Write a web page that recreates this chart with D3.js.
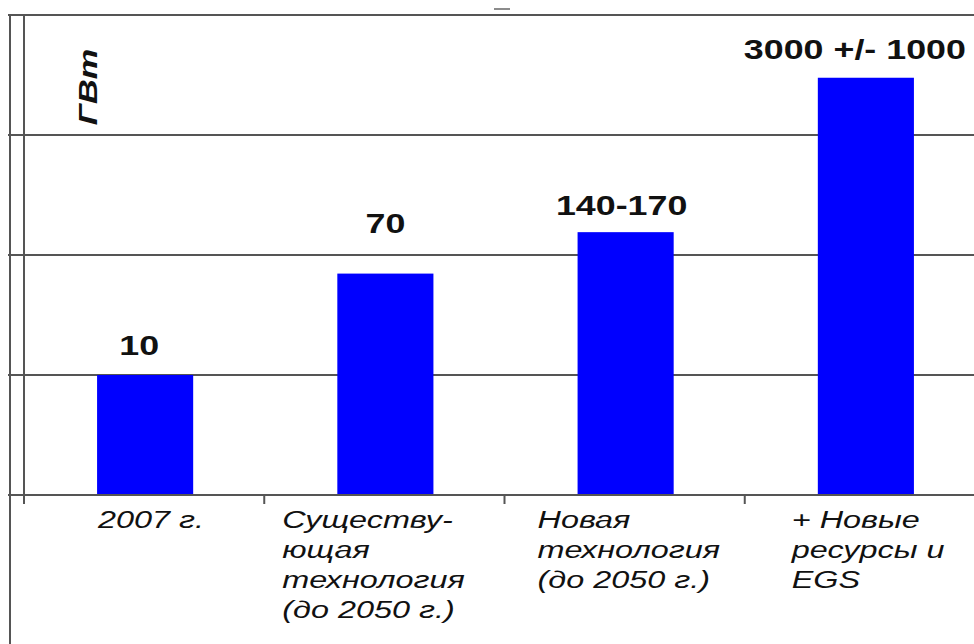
<!DOCTYPE html>
<html lang="ru">
<head>
<meta charset="utf-8">
<script src="https://cdn.jsdelivr.net/npm/d3@7"></script>
<style>
  html, body { margin: 0; padding: 0; background: #fff; }
  svg { display: block; }
</style>
</head>
<body>
<svg id="chart" width="974" height="644" lang="ru"></svg>
<script>
// Geothermal power potential, GW (log scale)
const categories = [
  ["2007 г."],
  ["Существу-", "ющая", "технология", "(до 2050 г.)"],
  ["Новая", "технология", "(до 2050 г.)"],
  ["+ Новые", "ресурсы и", "EGS"]
];
const values = [10, 70, 155, 3000];
const valueLabels = ["10", "70", "140-170", "3000 +/- 1000"];
const gridValues = [10, 100, 1000, 10000];
const unitLabel = "ГВт";

const svg = d3.select("#chart");
const W = 974, H = 644;
const plotLeft = 24, plotRight = 985, plotTop = 15, plotBottom = 495;

const x = d3.scaleBand()
  .domain(d3.range(categories.length))
  .range([plotLeft, plotRight])
  .paddingInner(0)
  .paddingOuter(0);

const y = d3.scaleLog()
  .domain([1, 10000])
  .range([plotBottom, plotTop]);

const gridColor = "#555";
const font = "'Liberation Sans', Arial, sans-serif";

// outer frame line on the far left
svg.append("line")
  .attr("x1", 10).attr("x2", 10)
  .attr("y1", 14).attr("y2", H)
  .attr("stroke", gridColor).attr("stroke-width", 2);

// horizontal gridlines
svg.append("g").selectAll("line")
  .data(gridValues)
  .join("line")
  .attr("x1", 8).attr("x2", W)
  .attr("y1", d => y(d)).attr("y2", d => y(d))
  .attr("stroke", gridColor).attr("stroke-width", 2);

// small mark above the plot
svg.append("line")
  .attr("x1", 494).attr("x2", 510)
  .attr("y1", 9).attr("y2", 9)
  .attr("stroke", "#666").attr("stroke-width", 1.5);

// bars
const barW = x.bandwidth() * 0.4;
const barCenter = i => x(i) + x.bandwidth() / 2 + 1;
svg.append("g").selectAll("rect")
  .data(values)
  .join("rect")
  .attr("x", (d, i) => barCenter(i) - barW / 2)
  .attr("width", barW)
  .attr("y", d => y(d))
  .attr("height", d => y(1) - y(d))
  .attr("fill", "#0000ff");

// baseline axis with category boundary ticks
svg.append("line")
  .attr("x1", 8).attr("x2", W)
  .attr("y1", y(1)).attr("y2", y(1))
  .attr("stroke", gridColor).attr("stroke-width", 2);

svg.append("g").selectAll("line")
  .data(d3.range(categories.length))
  .join("line")
  .attr("x1", i => x(i)).attr("x2", i => x(i))
  .attr("y1", y(1)).attr("y2", y(1) + 9)
  .attr("stroke", gridColor).attr("stroke-width", 2);

// vertical value axis
svg.append("line")
  .attr("x1", plotLeft).attr("x2", plotLeft)
  .attr("y1", plotTop).attr("y2", y(1) + 9)
  .attr("stroke", gridColor).attr("stroke-width", 2);

// value labels above bars, set in a wide bold face
const labelDx = [-6, 0, -4, -11];
const labelGap = [20, 41, 17, 19];
svg.append("g").selectAll("text")
  .data(values)
  .join("text")
  .attr("transform", (d, i) =>
    `translate(${barCenter(i) + labelDx[i]},${y(d) - labelGap[i]}) scale(1.28,1)`)
  .attr("text-anchor", "middle")
  .attr("font-family", font)
  .attr("font-weight", "bold")
  .attr("font-size", 28)
  .attr("fill", "#111")
  .text((d, i) => valueLabels[i]);

// category labels, wide italic
const catDx = [74, 18, 33, 47];
const catG = svg.append("g")
  .attr("lang", "ru")
  .attr("font-family", font)
  .attr("font-style", "italic")
  .attr("font-size", 24)
  .attr("fill", "#111");

categories.forEach((lines, i) => {
  const tx = catG.append("text")
    .attr("lang", "ru")
    .attr("transform", `translate(${x(i) + catDx[i]},${y(1) + 33}) scale(1.35,1)`);
  lines.forEach((ln, j) => {
    tx.append("tspan")
      .attr("x", 0)
      .attr("y", j * 30)
      .text(ln);
  });
});

// unit label
svg.append("text")
  .attr("lang", "ru")
  .attr("transform", "translate(97,87) rotate(-90) scale(1.32,1)")
  .attr("text-anchor", "middle")
  .attr("font-family", font)
  .attr("font-style", "italic")
  .attr("font-weight", "bold")
  .attr("font-size", 26)
  .attr("fill", "#111")
  .text(unitLabel);
</script>
</body>
</html>
